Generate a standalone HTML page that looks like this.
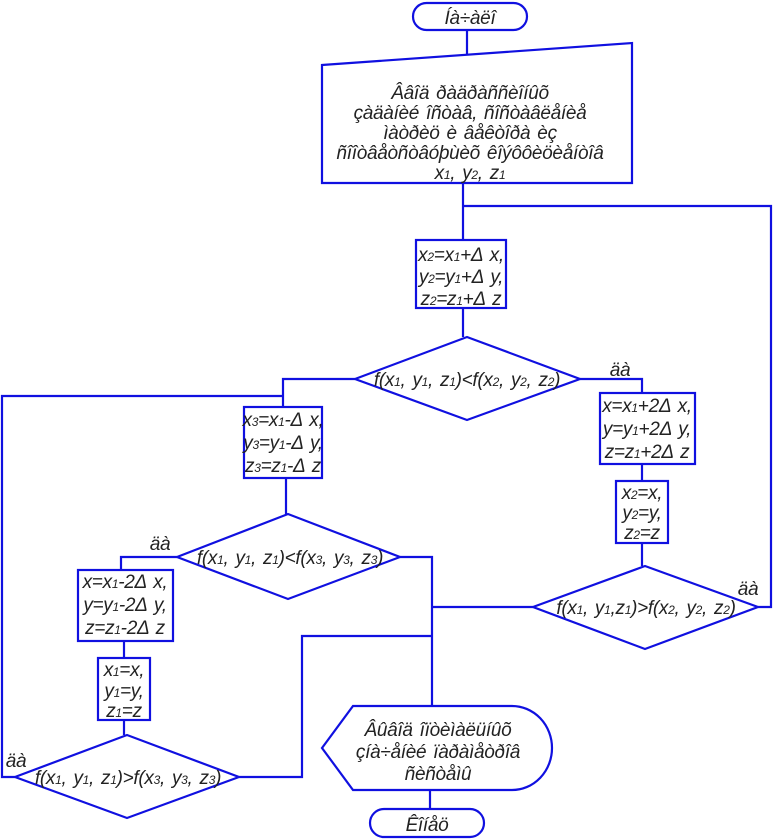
<!DOCTYPE html>
<html><head><meta charset="utf-8"><style>
html,body{margin:0;padding:0;background:#fff;}
svg{display:block;}
text{font-family:"Liberation Sans",sans-serif;font-style:italic;font-size:19px;fill:#222;letter-spacing:-0.3px;word-spacing:2px;}
.s{font-size:12px;}
</style></head><body>
<svg width="773" height="839" viewBox="0 0 773 839" xmlns="http://www.w3.org/2000/svg">
<g fill="none" stroke="#1010e0" stroke-width="2.2">
<rect x="413" y="3" width="114" height="27" rx="13.5"/>
<line x1="467" y1="30" x2="467" y2="55"/>
<polygon points="322,65 632,43 632,183 322,183"/>
<line x1="463" y1="183" x2="463" y2="240"/>
<polyline points="463,206 771,206 771,607 758,607"/>
<rect x="416" y="240" width="90" height="68"/>
<line x1="463" y1="308" x2="463" y2="337"/>
<polygon points="355,379 467,337 580,379 467,420"/>
<polyline points="580,379 642,379 642,393"/>
<rect x="600" y="393" width="95" height="71"/>
<line x1="642" y1="464" x2="642" y2="481"/>
<rect x="616" y="481" width="52" height="62"/>
<line x1="642" y1="543" x2="642" y2="566"/>
<polygon points="533,607 645,566 758,607 645,649"/>
<polyline points="355,379 283,379 283,407"/>
<polyline points="283,396 2,396 2,777 15,777"/>
<rect x="244" y="407" width="78" height="71"/>
<line x1="286" y1="478" x2="286" y2="514"/>
<polygon points="177,557 288,514 400,557 288,599"/>
<polyline points="177,557 121,557 121,570"/>
<polyline points="400,557 432,557 432,706"/>
<line x1="432" y1="607" x2="533" y2="607"/>
<rect x="78" y="570" width="95" height="71"/>
<line x1="124" y1="641" x2="124" y2="658"/>
<rect x="98" y="658" width="52" height="62"/>
<line x1="124" y1="720" x2="124" y2="735"/>
<polygon points="15,777 127,735 239,777 127,818"/>
<polyline points="239,777 302,777 302,636 432,636"/>
<path d="M322,748 L353,706 L512,706 A40,42 0 0 1 512,790 L353,790 Z"/>
<line x1="430" y1="790" x2="430" y2="809"/>
<rect x="370" y="809" width="114" height="28" rx="14"/>
</g>
<g text-anchor="middle">
<text x="470" y="24">Íà÷àëî</text>
<text x="470" y="99">Ââîä ðàäðàññèîíûõ</text>
<text x="470" y="119">çàäàíèé îñòàâ, ñîñòàâëåíèå</text>
<text x="470" y="139">ìàòðèö è âåêòîðà èç</text>
<text x="470" y="159">ñîîòâåòñòâóþùèõ êîýôôèöèåíòîâ</text>
<text x="470" y="179">x<tspan class="s">1</tspan>, y<tspan class="s">2</tspan>, z<tspan class="s">1</tspan></text>
<text x="461" y="261">x<tspan class="s">2</tspan>=x<tspan class="s">1</tspan>+Δ x,</text>
<text x="461" y="283">y<tspan class="s">2</tspan>=y<tspan class="s">1</tspan>+Δ y,</text>
<text x="461" y="305">z<tspan class="s">2</tspan>=z<tspan class="s">1</tspan>+Δ z</text>
<text x="467" y="386">f(x<tspan class="s">1</tspan>, y<tspan class="s">1</tspan>, z<tspan class="s">1</tspan>)&lt;f(x<tspan class="s">2</tspan>, y<tspan class="s">2</tspan>, z<tspan class="s">2</tspan>)</text>
<text x="620" y="376">äà</text>
<text x="647" y="412">x=x<tspan class="s">1</tspan>+2Δ x,</text>
<text x="647" y="435">y=y<tspan class="s">1</tspan>+2Δ y,</text>
<text x="647" y="458">z=z<tspan class="s">1</tspan>+2Δ z</text>
<text x="642" y="499">x<tspan class="s">2</tspan>=x,</text>
<text x="642" y="519">y<tspan class="s">2</tspan>=y,</text>
<text x="642" y="539">z<tspan class="s">2</tspan>=z</text>
<text x="646" y="614">f(x<tspan class="s">1</tspan>, y<tspan class="s">1</tspan>,z<tspan class="s">1</tspan>)&gt;f(x<tspan class="s">2</tspan>, y<tspan class="s">2</tspan>, z<tspan class="s">2</tspan>)</text>
<text x="748" y="595">äà</text>
<text x="283" y="426">x<tspan class="s">3</tspan>=x<tspan class="s">1</tspan>-Δ x,</text>
<text x="283" y="449">y<tspan class="s">3</tspan>=y<tspan class="s">1</tspan>-Δ y,</text>
<text x="283" y="472">z<tspan class="s">3</tspan>=z<tspan class="s">1</tspan>-Δ z</text>
<text x="290" y="564">f(x<tspan class="s">1</tspan>, y<tspan class="s">1</tspan>, z<tspan class="s">1</tspan>)&lt;f(x<tspan class="s">3</tspan>, y<tspan class="s">3</tspan>, z<tspan class="s">3</tspan>)</text>
<text x="160" y="550">äà</text>
<text x="125" y="588">x=x<tspan class="s">1</tspan>-2Δ x,</text>
<text x="125" y="611">y=y<tspan class="s">1</tspan>-2Δ y,</text>
<text x="125" y="634">z=z<tspan class="s">1</tspan>-2Δ z</text>
<text x="124" y="676">x<tspan class="s">1</tspan>=x,</text>
<text x="124" y="697">y<tspan class="s">1</tspan>=y,</text>
<text x="124" y="717">z<tspan class="s">1</tspan>=z</text>
<text x="128" y="784">f(x<tspan class="s">1</tspan>, y<tspan class="s">1</tspan>, z<tspan class="s">1</tspan>)&gt;f(x<tspan class="s">3</tspan>, y<tspan class="s">3</tspan>, z<tspan class="s">3</tspan>)</text>
<text x="16" y="767">äà</text>
<text x="438" y="736">Âûâîä îïòèìàëüíûõ</text>
<text x="438" y="758">çíà÷åíèé ïàðàìåòðîâ</text>
<text x="438" y="780">ñèñòåìû</text>
<text x="427" y="831">Êîíåö</text>
</g>
</svg>
</body></html>
